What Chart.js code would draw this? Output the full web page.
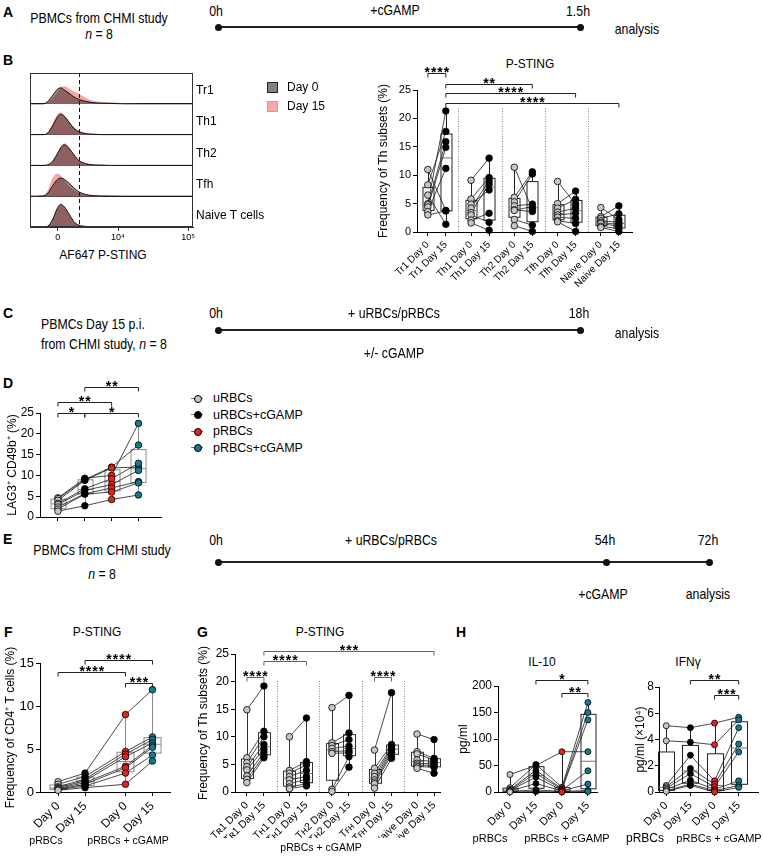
<!DOCTYPE html>
<html>
<head>
<meta charset="utf-8">
<title>P-STING figure</title>
<script src="https://cdn.jsdelivr.net/npm/chart.js@4.4.1/dist/chart.umd.min.js"></script>
<style>
  body { margin: 0; width: 763px; height: 863px; position: relative; overflow: hidden; background: #fff; font-family: 'Liberation Sans', Arial, sans-serif; color: #000; }
  canvas { position: absolute; }
  .t { position: absolute; white-space: nowrap; line-height: 1; }
  .bar { position: absolute; height: 2px; background: #222; }
  .dot { position: absolute; width: 7px; height: 7px; border-radius: 50%; background: #111; }
</style>
</head>
<body>
<script>
// ---- B: flow histograms (channel 0-100, height = fraction of one row)
const HIST_ROWS = ['Tr1', 'Th1', 'Th2', 'Tfh', 'Naive T cells'];
const HIST_CHANNEL = [0, 8, 11, 14, 17, 19, 21, 24, 27, 30, 34, 38, 43, 50, 58, 70, 100];
const HIST_DAY0 = [
  [0, 0, 0.08, 0.28, 0.48, 0.52, 0.45, 0.34, 0.22, 0.14, 0.08, 0.04, 0.02, 0.01, 0, 0, 0],
  [0, 0, 0.06, 0.30, 0.58, 0.66, 0.60, 0.40, 0.20, 0.09, 0.03, 0.01, 0, 0, 0, 0, 0],
  [0, 0, 0.02, 0.14, 0.40, 0.58, 0.67, 0.55, 0.34, 0.16, 0.06, 0.02, 0.01, 0, 0, 0, 0],
  [0, 0.01, 0.10, 0.35, 0.55, 0.59, 0.55, 0.42, 0.27, 0.14, 0.06, 0.02, 0.01, 0.005, 0, 0, 0],
  [0, 0, 0.03, 0.26, 0.63, 0.74, 0.66, 0.42, 0.17, 0.06, 0.02, 0.005, 0, 0, 0, 0, 0]
];
const HIST_DAY15 = [
  [0, 0, 0.05, 0.20, 0.40, 0.52, 0.57, 0.50, 0.40, 0.33, 0.20, 0.11, 0.07, 0.05, 0.02, 0.005, 0],
  [0, 0, 0.08, 0.38, 0.68, 0.72, 0.62, 0.42, 0.24, 0.13, 0.07, 0.04, 0.02, 0.01, 0, 0, 0],
  [0, 0, 0.03, 0.16, 0.42, 0.62, 0.72, 0.60, 0.36, 0.17, 0.07, 0.03, 0.02, 0.01, 0.005, 0, 0],
  [0, 0.02, 0.20, 0.60, 0.74, 0.66, 0.52, 0.34, 0.20, 0.10, 0.04, 0.02, 0.01, 0, 0, 0, 0],
  [0, 0, 0.03, 0.25, 0.61, 0.72, 0.64, 0.40, 0.17, 0.06, 0.02, 0.005, 0, 0, 0, 0, 0]
];
const HIST_TICKS = [17, 54, 97];
const HIST_TICK_LABELS = ['0', '10⁴', '10⁵'];
const HIST_GATE = 30;

// ---- B: P-STING per Th subset, 8 donors, same index = same donor
const B_SUBSETS = ['Tr1', 'Th1', 'Th2', 'Tfh', 'Naive'];
const B_DAY0 = [
  [11.0, 8.3, 6.5, 5.0, 4.8, 4.4, 3.6, 3.0],
  [9.1, 5.8, 4.9, 4.2, 3.4, 3.0, 2.1, 1.6],
  [11.4, 6.1, 5.3, 4.6, 3.9, 3.8, 2.2, 1.1],
  [8.9, 5.0, 4.2, 3.5, 3.0, 2.6, 2.0, 1.8],
  [4.3, 2.7, 2.4, 2.0, 1.7, 1.5, 1.0, 0.8]
];
const B_DAY15 = [
  [3.8, 17.7, 1.35, 21.3, 15.9, 14.9, 11.2, 3.7],
  [13.0, 9.6, 7.4, 9.0, 8.4, 1.7, 3.3, 0.3],
  [4.0, 10.6, 10.2, 4.9, 3.6, 4.5, 1.2, 0.1],
  [4.9, 7.2, 5.75, 4.2, 3.3, 2.4, 1.5, 0.1],
  [2.2, 4.6, 3.2, 1.7, 1.3, 1.0, 0.6, 0.1]
];
const B_SIG = [[0, 1, 28.0, '****'], [1, 5.8, 26.1, '**'], [1, 8.2, 24.5, '****'], [1, 10.6, 22.7, '****']];

// ---- D: LAG3+ CD49b+ (%)
const D_CONDITIONS = ['uRBCs', 'uRBCs+cGAMP', 'pRBCs', 'pRBCs+cGAMP'];
const D_URBC = [4.6, 4.4, 4.0, 3.3, 3.0, 2.4, 1.9, 1.4];
const D_URBC_CGAMP = [9.3, 9.0, 8.8, 6.8, 6.4, 5.6, 5.5, 2.7];
const D_PRBC = [10.0, 12.0, 11.8, 9.2, 7.8, 7.0, 6.0, 4.2];
const D_PRBC_CGAMP = [22.5, 17.3, 12.0, 12.9, 11.2, 8.5, 8.2, 5.3];
const D_SIG = [[0, 1, 25, '*'], [1, 3, 25, '*'], [0, 2, 27.6, '**'], [1, 3, 31.2, '**']];

// ---- F: P-STING in CD4+ T cells
const F_LABELS = ['Day 0', 'Day 15', 'Day 0', 'Day 15'];
const F_PRBC_D0 = [1.2, 0.9, 0.6, 0.5, 0.4, 0.3, 0.3, 0.2];
const F_PRBC_D15 = [2.2, 1.8, 1.5, 1.3, 1.1, 0.9, 0.7, 0.5];
const F_CGAMP_D0 = [9.0, 4.7, 4.4, 4.1, 3.0, 2.8, 2.2, 0.9];
const F_CGAMP_D15 = [11.9, 6.4, 6.1, 5.7, 5.4, 5.2, 4.3, 3.6];
const F_SIG = [[0, 2.5, 14.0, '****'], [1, 3.5, 15.3, '****'], [2.5, 3.5, 12.7, '***']];

// ---- G: P-STING per Th subset after pRBCs + cGAMP
const G_SUBSETS = ['Tʀ1', 'Tʜ1', 'Tʜ2', 'Tꜰʜ', 'Naive'];
const G_DAY0 = [
  [14.9, 6.2, 5.3, 4.6, 4.0, 2.9, 2.3, 1.7],
  [10.0, 3.9, 3.4, 2.8, 2.2, 1.5, 0.9, 0.6],
  [15.3, 8.9, 8.4, 7.9, 7.3, 7.0, 0.5, 0.1],
  [7.6, 4.3, 3.4, 2.8, 2.2, 1.8, 1.5, 0.7],
  [10.5, 7.3, 6.9, 5.8, 5.2, 4.9, 4.6, 4.3]
];
const G_DAY15 = [
  [19.2, 11.0, 10.0, 8.6, 7.8, 7.2, 6.6, 6.2],
  [13.4, 5.5, 4.9, 3.9, 2.8, 2.3, 1.5, 1.1],
  [17.5, 10.7, 9.5, 8.3, 7.5, 7.1, 6.4, 4.5],
  [18.0, 8.6, 8.2, 7.9, 7.6, 7.2, 6.7, 6.1],
  [9.5, 6.1, 5.8, 5.5, 5.1, 4.8, 4.5, 3.4]
];
const G_SIG = [[0, 1, 20.9, '****'], [1, 3.5, 23.8, '****'], [1, 11, 25.6, '***'], [7.5, 8.5, 20.9, '****']];

// ---- H: cytokines
const IL10_PRBC_D0 = [33, 8, 5, 4, 3, 2, 1, 0];
const IL10_PRBC_D15 = [50, 52, 41, 35, 28, 16, 4, 1];
const IL10_CGAMP_D0 = [76, 9, 6, 5, 3, 2, 1, 0];
const IL10_CGAMP_D15 = [76, 169, 150, 136, 40, 15, 3, 1];
const IL10_SIG = [[1, 3, 211, '*'], [2, 3, 187, '**']];
const IFNG_PRBC_D0 = [5.05, 3.9, 0.5, 0.4, 0.3, 0.2, 0.1, 0.05];
const IFNG_PRBC_D15 = [4.9, 3.8, 2.8, 1.8, 1.4, 0.9, 0.6, 0.5];
const IFNG_CGAMP_D0 = [5.25, 3.6, 0.85, 0.6, 0.4, 0.2, 0.1, 0.0];
const IFNG_CGAMP_D15 = [5.7, 5.5, 4.9, 3.65, 3.05, 0.85, 0.5, 0.35];
const IFNG_SIG = [[1, 3, 8.55, '**'], [2, 3, 7.4, '***']];

const GREY = '#c6c6c6', BLACK = '#000000', RED = '#e5231c', TEAL = '#17798d';
const FONT = "'Liberation Sans', Arial, sans-serif";

Chart.defaults.font.family = FONT;
Chart.defaults.color = '#000';
Chart.defaults.plugins.legend.display = false;
Chart.defaults.plugins.tooltip.enabled = false;

// plain text on the page
function txt(html, x, y, o = {}) {
  const d = document.createElement('div');
  d.className = 't';
  d.innerHTML = html;
  d.style.left = x + 'px';
  d.style.top = y + 'px';
  d.style.fontSize = (o.size || 12) + 'px';
  if (o.bold) d.style.fontWeight = 'bold';
  const ax = o.align === 'l' ? '0' : '-50%';
  d.style.transformOrigin = o.align === 'l' ? 'left center' : 'center center';
  d.style.transform = `translate(${ax}, -50%)` + (o.sx ? ` scaleX(${o.sx})` : '');
  document.body.appendChild(d);
}

function timeline(x1, x2, y, dots) {
  const b = document.createElement('div');
  b.className = 'bar';
  b.style.left = x1 + 'px'; b.style.top = (y - 1) + 'px'; b.style.width = (x2 - x1) + 'px';
  document.body.appendChild(b);
  dots.forEach(x => {
    const d = document.createElement('div');
    d.className = 'dot';
    d.style.left = (x - 3.5) + 'px'; d.style.top = (y - 3.5) + 'px';
    document.body.appendChild(d);
  });
}

// canvas placed on the page, chart area pinned to page coords
function makeChart(rect, area, cfg) {
  const cv = document.createElement('canvas');
  cv.width = rect.w; cv.height = rect.h;
  cv.style.left = rect.l + 'px'; cv.style.top = rect.t + 'px';
  cv.style.width = rect.w + 'px'; cv.style.height = rect.h + 'px';
  document.body.appendChild(cv);
  const o = cfg.options;
  o.responsive = false;
  o.devicePixelRatio = 1;
  o.animation = false;
  o.layout = { autoPadding: false, padding: { left: 0, top: area.t - rect.t, right: rect.l + rect.w - area.r, bottom: 0 } };
  o.scales.x.afterFit = s => { s.height = rect.t + rect.h - area.b; s.paddingLeft = 0; s.paddingRight = 0; };
  o.scales.y.afterFit = s => { s.width = area.l - rect.l; s.paddingTop = 0; s.paddingBottom = 0; };
  return new Chart(cv, cfg);
}

// Prism style quartiles
function quant(s, p) {
  const n = s.length, pos = p * (n + 1);
  if (pos <= 1) return s[0];
  if (pos >= n) return s[n - 1];
  const i = Math.floor(pos), f = pos - i;
  return s[i - 1] + f * (s[i] - s[i - 1]);
}

function boxPlugin(groups, st) {
  return {
    id: 'boxes',
    beforeDatasetsDraw(chart) {
      const { ctx } = chart, xs = chart.scales.x, ys = chart.scales.y;
      ctx.save();
      ctx.lineWidth = 1;
      groups.forEach(g => {
        const s = g.values.slice().sort((a, b) => a - b);
        const px = Math.round(xs.getPixelForValue(g.x)) + 0.5;
        const lo = ys.getPixelForValue(s[0]), hi = ys.getPixelForValue(s[s.length - 1]);
        const q1 = ys.getPixelForValue(quant(s, 0.25)), q3 = ys.getPixelForValue(quant(s, 0.75));
        const md = ys.getPixelForValue(quant(s, 0.5));
        ctx.strokeStyle = st.color;
        ctx.beginPath();
        ctx.moveTo(px, hi); ctx.lineTo(px, q3);
        ctx.moveTo(px, q1); ctx.lineTo(px, lo);
        ctx.stroke();
        ctx.strokeRect(px - st.half, q3, st.half * 2, q1 - q3);
        ctx.strokeStyle = st.median;
        ctx.beginPath();
        ctx.moveTo(px - st.half, md); ctx.lineTo(px + st.half, md);
        ctx.stroke();
      });
      ctx.restore();
    }
  };
}

function bracketPlugin(items, color) {
  return {
    id: 'brackets',
    afterDatasetsDraw(chart) {
      const { ctx } = chart, xs = chart.scales.x, ys = chart.scales.y;
      ctx.save();
      ctx.strokeStyle = color;
      ctx.lineWidth = 1;
      ctx.fillStyle = '#000';
      ctx.font = 'bold 14px ' + FONT;
      ctx.textAlign = 'center';
      ctx.textBaseline = 'alphabetic';
      if ('letterSpacing' in ctx) ctx.letterSpacing = '1px';
      items.forEach(b => {
        const x1 = xs.getPixelForValue(b[0]), x2 = xs.getPixelForValue(b[1]);
        const y = Math.round(ys.getPixelForValue(b[2])) + 0.5;
        ctx.beginPath();
        ctx.moveTo(x1, y + 4); ctx.lineTo(x1, y); ctx.lineTo(x2, y); ctx.lineTo(x2, y + 4);
        ctx.stroke();
        ctx.fillText(b[3], (x1 + x2) / 2 + 0.5, y + 3);
      });
      ctx.restore();
    }
  };
}

function sepPlugin(xsList, top) {
  return {
    id: 'separators',
    beforeDatasetsDraw(chart) {
      const { ctx } = chart, xs = chart.scales.x, ys = chart.scales.y;
      ctx.save();
      ctx.strokeStyle = '#8a8a8a';
      ctx.lineWidth = 1;
      ctx.setLineDash([1, 1.5]);
      xsList.forEach(v => {
        const px = Math.round(xs.getPixelForValue(v)) + 0.5;
        ctx.beginPath();
        ctx.moveTo(px, ys.getPixelForValue(0));
        ctx.lineTo(px, ys.getPixelForValue(top));
        ctx.stroke();
      });
      ctx.restore();
    }
  };
}

function pairedChart(p) {
  const datasets = [];
  p.lines.forEach(pts => datasets.push({
    data: pts, borderColor: '#1a1a1a', borderWidth: 0.8, pointRadius: 0,
    spanGaps: false, clip: false, order: 2
  }));
  p.groups.forEach(g => datasets.push({
    data: g.values.map(v => ({ x: g.x, y: v })), showLine: false,
    pointRadius: p.r, pointBackgroundColor: g.color, pointBorderColor: '#000',
    pointBorderWidth: 0.8, clip: false, order: 1
  }));
  const cfg = {
    type: 'line',
    data: { datasets },
    options: {
      scales: {
        x: {
          type: 'linear', min: p.xmin, max: p.xmax,
          afterBuildTicks: s => { s.ticks = p.ticks.map(v => ({ value: v })); },
          border: { color: '#000', width: 1 },
          grid: { drawOnChartArea: false, color: '#000', tickLength: 4 },
          ticks: {
            display: !!p.labels, autoSkip: false, minRotation: 45, maxRotation: 45, padding: 3,
            font: { size: p.xFont || 11 }, callback: (v, i) => (p.labels ? p.labels[i] : '')
          }
        },
        y: {
          min: 0, max: p.ymax,
          border: { color: '#000', width: 1 },
          grid: { drawOnChartArea: false, color: '#000', tickLength: 4 },
          ticks: { stepSize: p.ystep, padding: p.ypad == null ? 2 : p.ypad, font: { size: p.yFont || 12 } },
          title: { display: true, text: p.ytitle, padding: 0, font: { size: 12 } }
        }
      }
    },
    plugins: [boxPlugin(p.groups, p.box), bracketPlugin(p.sig, p.sigColor || '#222'), sepPlugin(p.seps || [], p.sepTop || 0)]
  };
  return makeChart(p.rect, p.area, cfg);
}

// subject lines that link day 0 and day 15 inside each subset
function pairLines(day0, day15, step) {
  const lines = [];
  for (let s = 0; s < day0[0].length; s++) {
    const pts = [];
    day0.forEach((vals, g) => {
      pts.push({ x: g * step, y: vals[s] }, { x: g * step + 1, y: day15[g][s] }, { x: g * step + 1.2, y: null });
    });
    lines.push(pts);
  }
  return lines;
}

// subject lines across all conditions
function chainLines(series, xs) {
  return series[0].map((_, s) => series.map((vals, k) => ({ x: xs[k], y: vals[s] })));
}

// ================= A =================
const NARROW = { size: 15, sx: 0.82 };
txt('A', 3, 12, { size: 14, bold: true, align: 'l' });
txt('PBMCs from CHMI study', 99, 17, NARROW);
txt('<i>n</i> = 8', 99, 33, NARROW);
timeline(218, 580, 27, [218, 580]);
txt('0h', 216, 10, NARROW);
txt('+cGAMP', 395, 9, NARROW);
txt('1.5h', 578, 10, NARROW);
txt('analysis', 637, 28, NARROW);

// ================= B: histograms =================
txt('B', 3, 60, { size: 14, bold: true, align: 'l' });
(function () {
  const sets = [];
  HIST_ROWS.forEach((row, r) => {
    const base = HIST_ROWS.length - 1 - r;
    const pts = h => HIST_CHANNEL.map((c, i) => ({ x: c, y: base + h[i] }));
    sets.push({ data: pts(HIST_DAY15[r]), fill: { value: base }, backgroundColor: '#f5a5a5', borderWidth: 0, pointRadius: 0, cubicInterpolationMode: 'monotone', order: 3 });
    sets.push({ data: pts(HIST_DAY0[r]), fill: { value: base }, backgroundColor: 'rgba(0,0,0,0.42)', borderWidth: 0, pointRadius: 0, cubicInterpolationMode: 'monotone', order: 2 });
    sets.push({ data: pts(HIST_DAY0[r]), fill: false, borderColor: '#111', borderWidth: 1, pointRadius: 0, cubicInterpolationMode: 'monotone', order: 1 });
  });
  const frame = {
    id: 'frame',
    afterDatasetsDraw(chart) {
      const { ctx, chartArea: a } = chart;
      const gx = Math.round(chart.scales.x.getPixelForValue(HIST_GATE)) + 0.5;
      ctx.save();
      ctx.strokeStyle = '#333';
      ctx.lineWidth = 1;
      ctx.strokeRect(a.left + 0.5, a.top + 0.5, a.right - a.left - 1, a.bottom - a.top - 1);
      ctx.setLineDash([4, 3]);
      ctx.strokeStyle = '#111';
      ctx.beginPath();
      ctx.moveTo(gx, a.top);
      ctx.lineTo(gx, a.bottom);
      ctx.stroke();
      ctx.restore();
    }
  };
  makeChart({ l: 20, t: 60, w: 180, h: 188 }, { l: 30, t: 73, r: 193, b: 227 }, {
    type: 'line',
    data: { datasets: sets },
    options: {
      scales: {
        x: {
          type: 'linear', min: 0, max: 100,
          afterBuildTicks: s => { s.ticks = HIST_TICKS.map(v => ({ value: v })); },
          border: { color: '#333' },
          grid: { drawOnChartArea: false, color: '#333', tickLength: 4 },
          ticks: { autoSkip: false, maxRotation: 0, minRotation: 0, padding: 1, font: { size: 9 }, callback: (v, i) => HIST_TICK_LABELS[i] }
        },
        y: {
          min: 0, max: HIST_ROWS.length,
          border: { color: '#333' },
          grid: { color: '#333', drawTicks: false },
          ticks: { stepSize: 1, display: false }
        }
      }
    },
    plugins: [frame]
  });
})();
HIST_ROWS.forEach((row, r) => txt(row, 196, 90 + r * 31.3, { size: 12, align: 'l' }));
txt('AF647 P-STING', 103, 255, { size: 12 });

// legend Day 0 / Day 15
(function () {
  [['#808080', '#222', 'Day 0', 87], ['#f8a9a9', '#e79191', 'Day 15', 106]].forEach(([fill, line, label, y]) => {
    const sq = document.createElement('div');
    sq.style.cssText = `position:absolute;left:267px;top:${y - 5.5}px;width:9px;height:9px;background:${fill};border:1px solid ${line}`;
    document.body.appendChild(sq);
    txt(label, 287, y, { size: 12, align: 'l' });
  });
})();

// ================= B: P-STING per subset =================
txt('P-STING', 530, 64, { size: 12 });
pairedChart({
  rect: { l: 376, t: 55, w: 274, h: 255 }, area: { l: 417, t: 90, r: 632, b: 232 },
  xmin: -0.6, xmax: 11.33,
  ticks: B_SUBSETS.flatMap((s, g) => [g * 2.4, g * 2.4 + 1]),
  labels: B_SUBSETS.flatMap(s => [s + ' Day 0', s + ' Day 15']),
  xFont: 10, yFont: 11, ymax: 25, ystep: 5, ytitle: 'Frequency of Th subsets (%)',
  groups: B_SUBSETS.flatMap((s, g) => [
    { x: g * 2.4, values: B_DAY0[g], color: GREY },
    { x: g * 2.4 + 1, values: B_DAY15[g], color: BLACK }
  ]),
  lines: pairLines(B_DAY0, B_DAY15, 2.4),
  r: 3.3, box: { color: '#222', median: '#777', half: 5.5 },
  sig: B_SIG, sigColor: '#222',
  seps: [1.7, 4.1, 6.5, 8.9], sepTop: 22
});

// ================= C =================
txt('C', 3, 313, { size: 14, bold: true, align: 'l' });
txt('PBMCs Day 15 p.i.', 41, 323, Object.assign({ align: 'l' }, NARROW));
txt('from CHMI study, <i>n</i> = 8', 41, 343, Object.assign({ align: 'l' }, NARROW));
timeline(218, 580, 330, [218, 580]);
txt('0h', 216, 312, NARROW);
txt('+ uRBCs/pRBCs', 394, 312, NARROW);
txt('18h', 579, 312, NARROW);
txt('analysis', 637, 332, NARROW);
txt('+/- cGAMP', 394, 352, NARROW);

// ================= D =================
txt('D', 3, 383, { size: 14, bold: true, align: 'l' });
pairedChart({
  rect: { l: 5, t: 372, w: 165, h: 153 }, area: { l: 40, t: 413, r: 161, b: 517 },
  xmin: -0.67, xmax: 3.84, ticks: [0, 1, 2, 3], labels: null,
  ymax: 25, ystep: 5, yFont: 12, ytitle: 'LAG3⁺ CD49b⁺ (%)',
  groups: [
    { x: 0, values: D_URBC, color: GREY }, { x: 1, values: D_URBC_CGAMP, color: BLACK },
    { x: 2, values: D_PRBC, color: RED }, { x: 3, values: D_PRBC_CGAMP, color: TEAL }
  ],
  lines: chainLines([D_URBC, D_URBC_CGAMP, D_PRBC, D_PRBC_CGAMP], [0, 1, 2, 3]),
  r: 3.3, box: { color: '#8a8a8a', median: '#8a8a8a', half: 7.5 },
  sig: D_SIG, sigColor: '#222'
});
(function () {
  const cols = [GREY, BLACK, RED, TEAL];
  D_CONDITIONS.forEach((c, i) => {
    const y = 398 + i * 16.5;
    const ln = document.createElement('div');
    ln.style.cssText = `position:absolute;left:191px;top:${y - 0.5}px;width:12px;height:1px;background:#777`;
    document.body.appendChild(ln);
    const dt = document.createElement('div');
    dt.style.cssText = `position:absolute;left:193.5px;top:${y - 3.5}px;width:6px;height:6px;border-radius:50%;background:${cols[i]};border:1px solid #000`;
    document.body.appendChild(dt);
    txt(c, 213, y, { size: 12.5, align: 'l' });
  });
})();

// ================= E =================
txt('E', 3, 539, { size: 14, bold: true, align: 'l' });
txt('PBMCs from CHMI study', 102, 549, NARROW);
txt('<i>n</i> = 8', 102, 573, NARROW);
timeline(218, 709, 562, [218, 606, 709]);
txt('0h', 216, 539, NARROW);
txt('+ uRBCs/pRBCs', 391, 539, NARROW);
txt('54h', 605, 539, NARROW);
txt('72h', 708, 539, NARROW);
txt('+cGAMP', 603, 593, NARROW);
txt('analysis', 708, 593, NARROW);

// ================= F =================
txt('F', 4, 632, { size: 14, bold: true, align: 'l' });
txt('P-STING', 97, 632, { size: 12 });
pairedChart({
  rect: { l: 3, t: 645, w: 177, h: 190 }, area: { l: 40, t: 663, r: 170, b: 792 },
  xmin: -0.67, xmax: 4.15, ticks: [0, 1, 2.5, 3.5], labels: F_LABELS, xFont: 12,
  ymax: 15, ystep: 5, yFont: 13, ytitle: 'Frequency of CD4⁺ T cells (%)',
  groups: [
    { x: 0, values: F_PRBC_D0, color: GREY }, { x: 1, values: F_PRBC_D15, color: BLACK },
    { x: 2.5, values: F_CGAMP_D0, color: RED }, { x: 3.5, values: F_CGAMP_D15, color: TEAL }
  ],
  lines: chainLines([F_PRBC_D0, F_PRBC_D15, F_CGAMP_D0, F_CGAMP_D15], [0, 1, 2.5, 3.5]),
  r: 3.3, box: { color: '#8a8a8a', median: '#8a8a8a', half: 8.5 },
  sig: F_SIG, sigColor: '#222'
});
txt('pRBCs', 46, 840, { size: 10.5 });
txt('pRBCs + cGAMP', 128, 840, { size: 10.5 });

// ================= G =================
txt('G', 197, 632, { size: 14, bold: true, align: 'l' });
txt('P-STING', 320, 632, { size: 12 });
pairedChart({
  rect: { l: 196, t: 640, w: 254, h: 198 }, area: { l: 235, t: 654, r: 440, b: 792 },
  xmin: -0.7, xmax: 11.35,
  ticks: G_SUBSETS.flatMap((s, g) => [g * 2.5, g * 2.5 + 1]),
  labels: G_SUBSETS.flatMap(s => [s + ' Day 0', s + ' Day 15']),
  xFont: 10.5, yFont: 12, ymax: 25, ystep: 5, ytitle: 'Frequency of Th subsets (%)',
  groups: G_SUBSETS.flatMap((s, g) => [
    { x: g * 2.5, values: G_DAY0[g], color: GREY },
    { x: g * 2.5 + 1, values: G_DAY15[g], color: BLACK }
  ]),
  lines: pairLines(G_DAY0, G_DAY15, 2.5),
  r: 3.3, box: { color: '#333', median: '#777', half: 6 },
  sig: G_SIG, sigColor: '#666',
  seps: [1.75, 4.25, 6.75, 9.25], sepTop: 20.3
});
txt('pRBCs + cGAMP', 321, 847, { size: 10.5 });

// ================= H =================
txt('H', 456, 632, { size: 14, bold: true, align: 'l' });
txt('IL-10', 542, 662, { size: 12 });
txt('IFNγ', 688, 662, { size: 12 });
pairedChart({
  rect: { l: 456, t: 665, w: 154, h: 165 }, area: { l: 498, t: 686, r: 597, b: 792 },
  xmin: -0.46, xmax: 3.35, ticks: [0, 1, 2, 3], labels: F_LABELS, xFont: 11,
  ymax: 200, ystep: 50, yFont: 12, ytitle: 'pg/ml',
  groups: [
    { x: 0, values: IL10_PRBC_D0, color: GREY }, { x: 1, values: IL10_PRBC_D15, color: BLACK },
    { x: 2, values: IL10_CGAMP_D0, color: RED }, { x: 3, values: IL10_CGAMP_D15, color: TEAL }
  ],
  lines: chainLines([IL10_PRBC_D0, IL10_PRBC_D15, IL10_CGAMP_D0, IL10_CGAMP_D15], [0, 1, 2, 3]),
  r: 3, box: { color: '#222', median: '#777', half: 7.5 },
  sig: IL10_SIG, sigColor: '#222'
});
pairedChart({
  rect: { l: 633, t: 665, w: 130, h: 165 }, area: { l: 659, t: 687, r: 758, b: 792 },
  xmin: -0.3, xmax: 3.8, ticks: [0, 1, 2, 3], labels: F_LABELS, xFont: 11,
  ymax: 8, ystep: 2, yFont: 12, ypad: 1, ytitle: 'pg/ml (×10⁴)',
  groups: [
    { x: 0, values: IFNG_PRBC_D0, color: GREY }, { x: 1, values: IFNG_PRBC_D15, color: BLACK },
    { x: 2, values: IFNG_CGAMP_D0, color: RED }, { x: 3, values: IFNG_CGAMP_D15, color: TEAL }
  ],
  lines: chainLines([IFNG_PRBC_D0, IFNG_PRBC_D15, IFNG_CGAMP_D0, IFNG_CGAMP_D15], [0, 1, 2, 3]),
  r: 3, box: { color: '#222', median: '#777', half: 8 },
  sig: IFNG_SIG, sigColor: '#222'
});
txt('pRBCs', 490, 838, { size: 11 });
txt('pRBCs + cGAMP', 567, 838, { size: 11 });
txt('pRBCs', 645, 838, { size: 12 });
txt('pRBCs + cGAMP', 719, 838, { size: 11 });
</script>
</body>
</html>
